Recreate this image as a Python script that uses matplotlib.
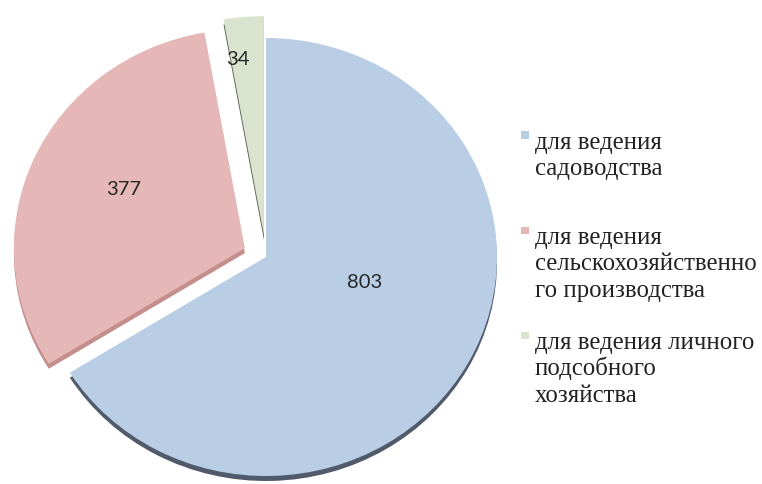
import matplotlib
matplotlib.use("Agg")
import matplotlib.pyplot as plt
import numpy as np
from matplotlib.patches import Rectangle

# Land plots by permitted use
categories = [
    "для ведения\nсадоводства",
    "для ведения\nсельскохозяйственно\nго производства",
    "для ведения личного\nподсобного\nхозяйства",
]
values = [803, 377, 34]

face_colors = ["#B9CDE5", "#E5B8B7", "#DAE3CD"]
side_colors = ["#505A6A", "#C48E8D", "#5E6556"]
explode = [0.0, 0.1, 0.1]
# value label placement: fraction along the slice arc, radial distance
label_frac = [0.56, 0.47, 0.80]
label_dist = [0.443, 0.593, 0.813]

W, H = 762, 485
fig = plt.figure(figsize=(W / 100, H / 100), dpi=100)

# pie placement in pixels (origin top-left) and its elliptical radii
cx, cy = 266, 258
rx, ry = 231, 219
lim = 1.35
ax = fig.add_axes([(cx - lim * rx) / W, 1 - (cy + lim * ry) / H,
                   2 * lim * rx / W, 2 * lim * ry / H])

# side of the slices, seen below the top face
depth = 5 / ry
ax.pie(values, explode=explode, colors=side_colors, startangle=90,
       counterclock=False, center=(0, -depth),
       wedgeprops=dict(linewidth=0))
# top face
wedges, _ = ax.pie(values, explode=explode, colors=face_colors, startangle=90,
                   counterclock=False, wedgeprops=dict(linewidth=0))

ax.set_aspect("auto")
ax.set_xlim(-lim, lim)
ax.set_ylim(-lim, lim)
ax.axis("off")

# value labels inside the slices
for w, v, f, d in zip(wedges, values, label_frac, label_dist):
    ang = np.deg2rad(w.theta1 + f * (w.theta2 - w.theta1))
    x0, y0 = w.center
    ax.text(x0 + d * np.cos(ang), y0 + d * np.sin(ang), f"{v}",
            ha="center", va="center", fontsize=14.5, family="Lato",
            color="#262626")

# legend
legend_baselines = [149, 244, 349]
line_step = 26.5
for label, col, base in zip(categories, face_colors, legend_baselines):
    fig.patches.append(Rectangle((521 / W, 1 - (base - 9) / H), 7.5 / W, 7.5 / H,
                                 transform=fig.transFigure, facecolor=col,
                                 edgecolor="none"))
    for i, line in enumerate(label.split("\n")):
        fig.text(535 / W, 1 - (base + i * line_step) / H, line,
                 ha="left", va="baseline", fontsize=17.8,
                 family="Liberation Serif", color="#222222")

fig.savefig("out.png", dpi=100)
